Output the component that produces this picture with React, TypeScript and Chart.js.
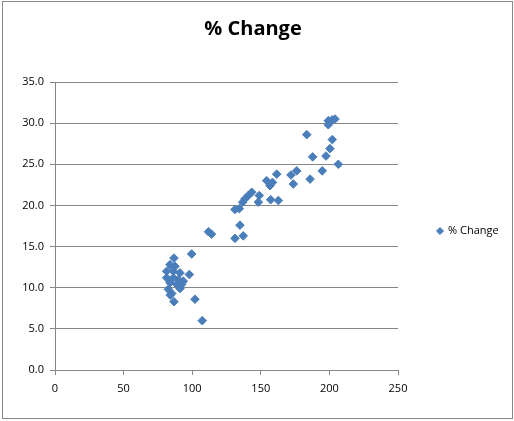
import React, { useEffect, useRef } from "react";
import { Chart, registerables } from "chart.js";

Chart.register(...registerables);

const seriesName = "% Change";

const xValues: number[] = [
  // upper group
  131.2, 134.3, 136.8, 138.5, 140.9, 143.4, 148.9, 148.2, 154.3, 156.7,
  158.5, 161.6, 157.2, 162.8, 172.0, 176.2, 173.7, 185.9, 187.8, 183.5,
  194.8, 197.5, 200.4, 202.1, 206.5, 199.2, 204.1, 199.2, 202.0, 134.8,
  131.2, 137.2,
  // middle
  111.9, 114.1,
  // lower cluster
  99.6, 86.7, 83.8, 87.5, 81.4, 86.2, 91.1, 97.9, 81.4, 86.2,
  89.9, 93.5, 83.8, 88.7, 92.3, 82.6, 85.1, 91.1, 86.7, 102.0,
  84.0, 107.3,
];

const yValues: number[] = [
  19.5, 19.6, 20.4, 20.8, 21.2, 21.6, 21.2, 20.4, 23.0, 22.4,
  22.8, 23.8, 20.7, 20.6, 23.7, 24.2, 22.6, 23.2, 25.9, 28.6,
  24.2, 26.0, 26.9, 28.0, 25.0, 30.3, 30.5, 29.8, 30.4, 17.6,
  16.0, 16.3,
  16.8, 16.5,
  14.1, 13.6, 12.8, 12.6, 12.0, 12.0, 11.8, 11.6, 11.2, 11.2,
  11.0, 10.8, 10.6, 10.4, 10.4, 9.8, 9.3, 9.9, 8.3, 8.6,
  9.1, 6.0,
];

const yTickMin = 0;
const yTickMax = 35;
const yTickStep = 5;
const xTickMin = 0;
const xTickMax = 250;
const xTickStep = 50;

const FONT = "'Open Sans', 'DejaVu Sans', sans-serif";
const GRID = "#878787";
const MARK = "#4A7EBB";

export default function App() {
  const canvasRef = useRef<HTMLCanvasElement | null>(null);

  useEffect(() => {
    if (!canvasRef.current) return;
    const points = xValues.map((x, i) => ({ x, y: yValues[i] }));
    const chart = new Chart(canvasRef.current, {
      type: "scatter",
      data: {
        datasets: [
          {
            label: seriesName,
            data: points,
            pointStyle: "rectRot",
            pointRadius: 4.3,
            backgroundColor: MARK,
            borderColor: MARK,
            borderWidth: 1,
          },
        ],
      },
      options: {
        animation: false,
        responsive: false,
        devicePixelRatio: 1,
        layout: { padding: { left: 0, right: 8, top: 0, bottom: 0 } },
        plugins: {
          title: {
            display: true,
            text: seriesName,
            color: "#000",
            font: { family: FONT, size: 20, weight: "bold", lineHeight: 1.2 },
            padding: { top: 17, bottom: 41 },
          },
          legend: {
            display: true,
            position: "right",
            fullSize: false,
            maxWidth: 108,
            title: { display: true, text: "", padding: 0, font: { size: 10, lineHeight: 1 } },
            labels: {
              usePointStyle: true,
              pointStyle: "rectRot",
              boxWidth: 5,
              boxHeight: 5,
              padding: 39.5,
              color: "#000",
              font: { family: FONT, size: 11 },
            },
          },
          tooltip: { enabled: false },
        },
        scales: {
          x: {
            type: "linear",
            min: xTickMin,
            max: xTickMax,
            afterFit: (scale: any) => {
              scale.height = 51;
            },
            ticks: {
              stepSize: xTickStep,
              padding: 7,
              color: "#000",
              font: { family: FONT, size: 11 },
            },
            grid: {
              drawOnChartArea: false,
              drawTicks: true,
              tickLength: 5,
              color: GRID,
            },
            border: { display: true, color: GRID, width: 1 },
          },
          y: {
            type: "linear",
            min: yTickMin,
            max: yTickMax,
            afterFit: (scale: any) => {
              scale.width = 55;
            },
            ticks: {
              stepSize: yTickStep,
              padding: 6,
              color: "#000",
              font: { family: FONT, size: 11 },
              callback: (v: any) => Number(v).toFixed(1),
            },
            grid: {
              drawOnChartArea: true,
              drawTicks: true,
              tickLength: 5,
              color: GRID,
            },
            border: { display: true, color: GRID, width: 1 },
          },
        },
      },
    });
    return () => chart.destroy();
  }, []);

  return (
    <div style={{ position: "absolute", left: 0, top: 0, width: 514, height: 421, background: "#fff" }}>
      <canvas ref={canvasRef} width={514} height={421} style={{ width: 514, height: 421, display: "block" }} />
      <div
        style={{
          position: "absolute",
          left: 2,
          top: 1,
          width: 509,
          height: 416,
          border: "1px solid #898989",
          pointerEvents: "none",
        }}
      />
    </div>
  );
}
